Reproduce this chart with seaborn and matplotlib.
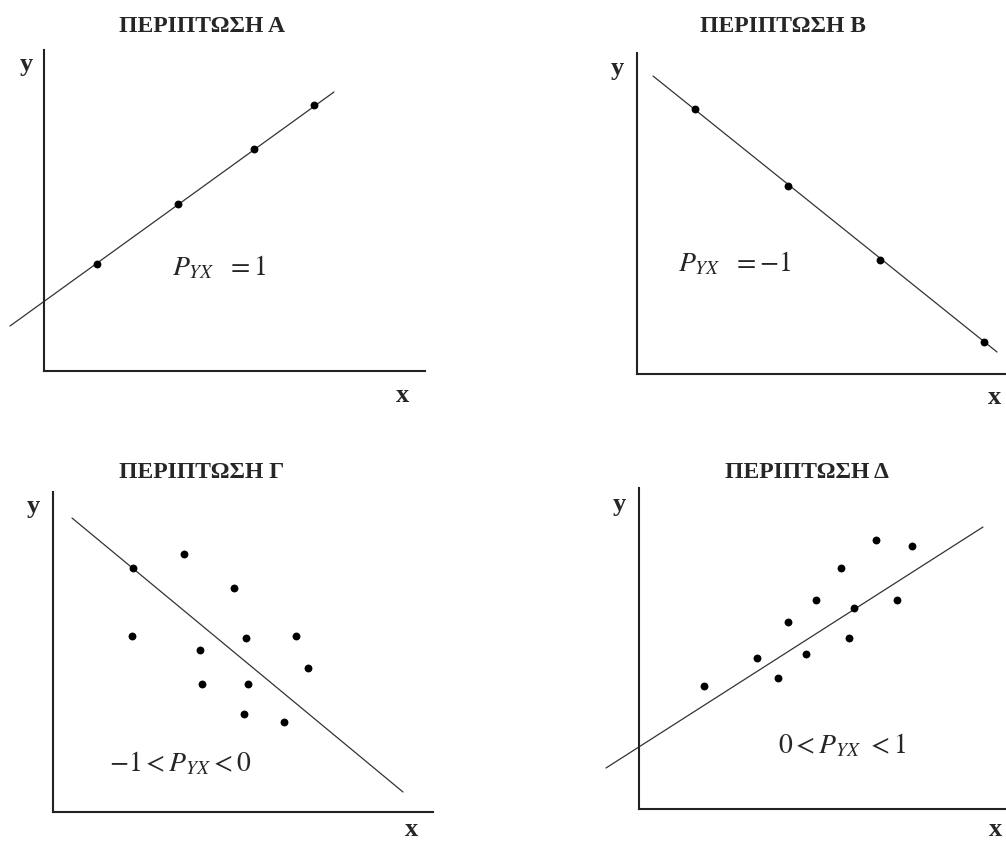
import numpy as np
import seaborn as sns
import matplotlib.pyplot as plt

# values (units: roughly 10 px of the original)
a_x = [5.3, 13.4, 21.0, 27.0]
a_y = [10.7, 16.7, 22.2, 26.6]
a_line_x = [-3.4, 29.0]
a_line_y = [4.5, 27.9]

b_x = [5.8, 15.1, 24.3, 34.7]
b_y = [26.5, 18.8, 11.4, 3.2]
b_line_x = [1.6, 36.0]
b_line_y = [29.8, 2.2]

c_x = [13.1, 8.0, 18.1, 7.9, 19.3, 24.3, 14.7, 25.5, 14.9, 19.5, 19.1, 23.1]
c_y = [25.8, 24.4, 22.4, 17.6, 17.4, 17.6, 16.2, 14.4, 12.8, 12.8, 9.8, 9.0]
c_line_x = [1.9, 35.0]
c_line_y = [29.4, 2.0]

d_x = [6.5, 11.8, 13.9, 14.9, 16.7, 17.7, 20.2, 21.0, 21.5, 23.7, 25.8, 27.3]
d_y = [12.3, 15.1, 13.1, 18.7, 15.5, 20.9, 24.1, 17.1, 20.1, 26.9, 20.9, 26.3]
d_line_x = [-3.3, 34.4]
d_line_y = [4.1, 28.2]

titles = ["ΠΕΡΙΠΤΩΣΗ Α", "ΠΕΡΙΠΤΩΣΗ Β", "ΠΕΡΙΠΤΩΣΗ Γ", "ΠΕΡΙΠΤΩΣΗ Δ"]
formulas = [r"$P_{YX}\ \ = 1$", r"$P_{YX}\ \ = -1$",
            r"$-1 < P_{YX} < 0$", r"$0 < P_{YX}\ < 1$"]

sns.set_style("white")
plt.rcParams["font.family"] = ["Liberation Serif", "DejaVu Serif"]
plt.rcParams["mathtext.fontset"] = "stix"

W, H = 1006, 842
fig = plt.figure(figsize=(W / 100, H / 100), dpi=100)
fig.patch.set_facecolor("white")

# panel boxes in pixels: origin x, origin y, width, height
boxes = [(44, 371, 381, 321), (637, 374, 369, 321),
         (53, 812, 380, 320), (639, 809, 367, 321)]
title_pos = [(202, 26), (783, 27), (202, 473), (807, 472)]
ylab_pos = [(26, 65), (617, 69), (33, 507), (619, 505)]
xlab_pos = [(403, 396), (995, 398), (412, 830), (996, 829)]
text_pos = [(17.5, 10.3), (9.8, 11.0), (12.7, 4.8), (20.3, 6.3)]

panels = [(a_x, a_y, a_line_x, a_line_y), (b_x, b_y, b_line_x, b_line_y),
          (c_x, c_y, c_line_x, c_line_y), (d_x, d_y, d_line_x, d_line_y)]

for i, (px, py, lx, ly) in enumerate(panels):
    ox, oy, w, h = boxes[i]
    ax = fig.add_axes([ox / W, 1 - oy / H, w / W, h / H])
    ax.set_xlim(0, w / 10)
    ax.set_ylim(0, h / 10)
    ax.set_facecolor("none")

    sns.lineplot(x=lx, y=ly, ax=ax, color="#333333", lw=0.9, clip_on=False)
    sns.scatterplot(x=px, y=py, ax=ax, color="black", s=32, linewidth=0,
                    clip_on=False, zorder=3)

    ax.set_xticks([])
    ax.set_yticks([])
    ax.set(xlabel="", ylabel="")
    for side in ["top", "right"]:
        ax.spines[side].set_visible(False)
    for side in ["left", "bottom"]:
        ax.spines[side].set_color("#222222")
        ax.spines[side].set_linewidth(1.5)

    tx, ty = text_pos[i]
    ax.text(tx, ty, formulas[i], fontsize=20, ha="center", va="center")

    fig.text(title_pos[i][0] / W, 1 - title_pos[i][1] / H, titles[i],
             fontsize=17, fontweight="bold", ha="center", va="center")
    fig.text(ylab_pos[i][0] / W, 1 - ylab_pos[i][1] / H, "y",
             fontsize=19, fontweight="bold", ha="center", va="center")
    fig.text(xlab_pos[i][0] / W, 1 - xlab_pos[i][1] / H, "x",
             fontsize=19, fontweight="bold", ha="center", va="center")

fig.savefig("out.png", dpi=100)
